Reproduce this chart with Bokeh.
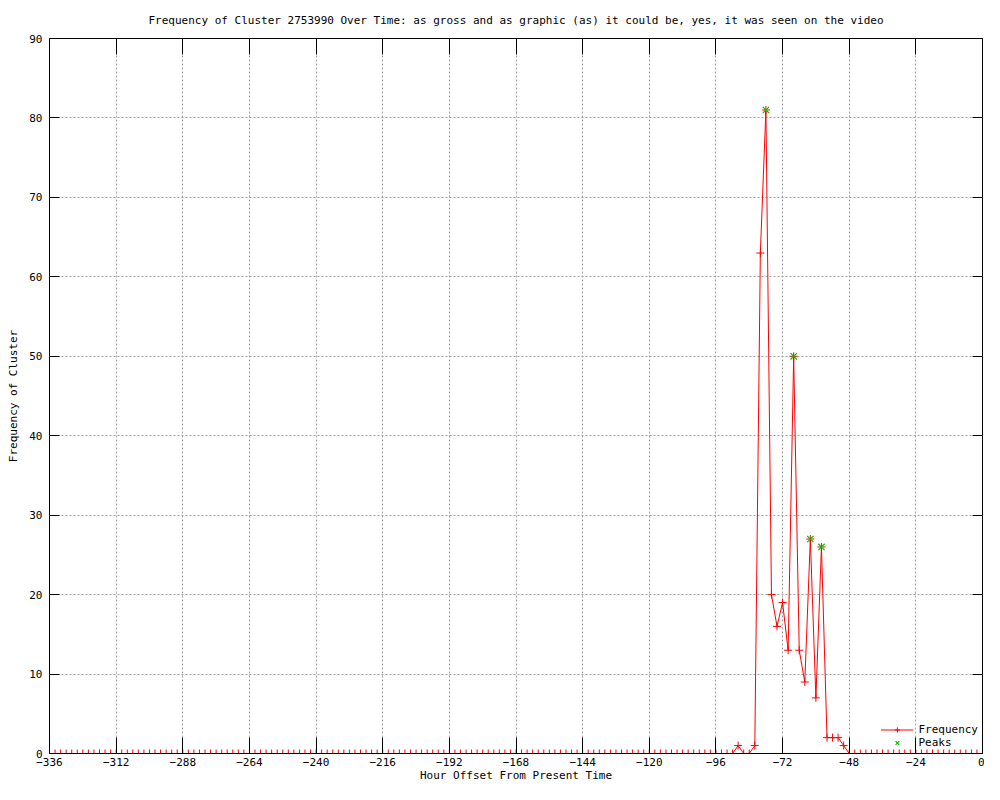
from bokeh.plotting import figure
from bokeh.models import FixedTicker, LinearAxis, Range1d, Legend, LegendItem
from bokeh.embed import file_html
from bokeh.resources import INLINE

# ---- data ----
hours = list(range(-336, 1, 2))
freq = [
    0, 0, 0, 0, 0, 0, 0, 0, 0, 0, 0, 0, 0, 0, 0, 0, 0, 0, 0, 0,
    0, 0, 0, 0, 0, 0, 0, 0, 0, 0, 0, 0, 0, 0, 0, 0, 0, 0, 0, 0,
    0, 0, 0, 0, 0, 0, 0, 0, 0, 0, 0, 0, 0, 0, 0, 0, 0, 0, 0, 0,
    0, 0, 0, 0, 0, 0, 0, 0, 0, 0, 0, 0, 0, 0, 0, 0, 0, 0, 0, 0,
    0, 0, 0, 0, 0, 0, 0, 0, 0, 0, 0, 0, 0, 0, 0, 0, 0, 0, 0, 0,
    0, 0, 0, 0, 0, 0, 0, 0, 0, 0, 0, 0, 0, 0, 0, 0, 0, 0, 0, 0,
    0, 0, 0, 0,
    1, 0, 0, 1, 63, 81, 20, 16, 19, 13, 50, 13, 9, 27, 7, 26, 2, 2, 2, 1,
    0,
    0, 0, 0, 0, 0, 0, 0, 0, 0, 0, 0, 0, 0, 0, 0, 0, 0, 0, 0, 0, 0, 0, 0, 0,
]
peak_hours = [-78, -68, -62, -58]
peak_values = [81, 50, 27, 26]
x_ticks = [-336, -312, -288, -264, -240, -216, -192, -168, -144, -120, -96, -72, -48, -24, 0]
y_ticks = [0, 10, 20, 30, 40, 50, 60, 70, 80, 90]

TITLE = ("Frequency of Cluster 2753990 Over Time: as gross and as graphic (as) "
         "it could be, yes, it was seen on the video")
FONT = "DejaVu Sans Mono"
FS = "11px"

p = figure(width=984, height=784,
           x_range=Range1d(-336, 0), y_range=Range1d(0, 90),
           output_backend="svg", toolbar_location=None,
           min_border_left=49, min_border_right=2,
           min_border_top=38, min_border_bottom=30,
           title=TITLE)

p.title.text_font = FONT
p.title.text_font_size = FS
p.title.text_font_style = "normal"
p.title.align = "center"
p.title.text_color = "black"
p.title.standoff = 23

p.outline_line_color = "black"
p.outline_line_width = 1
p.background_fill_color = "white"
p.border_fill_color = "white"

def style_axis(ax, tick_len):
    ax.axis_line_color = "black"
    ax.major_tick_line_color = "black"
    ax.major_tick_in = tick_len
    ax.major_tick_out = 0
    ax.minor_tick_line_color = None
    ax.major_label_text_font = FONT
    ax.major_label_text_font_size = FS
    ax.major_label_text_color = "black"
    ax.axis_label_text_font = FONT
    ax.axis_label_text_font_size = FS
    ax.axis_label_text_font_style = "normal"
    ax.axis_label_text_color = "black"

xa = p.xaxis[0]
xa.ticker = FixedTicker(ticks=x_ticks)
xa.axis_label = "Hour Offset From Present Time"
style_axis(xa, 16)
xa.major_label_standoff = 4
xa.axis_label_standoff = 0

ya = p.yaxis[0]
ya.ticker = FixedTicker(ticks=y_ticks)
ya.axis_label = "Frequency of Cluster"
style_axis(ya, 10)
ya.major_label_standoff = 7
ya.axis_label_standoff = 6

top = LinearAxis(ticker=FixedTicker(ticks=x_ticks))
style_axis(top, 16)
top.major_label_standoff = 0
top.major_label_overrides = {t: "" for t in x_ticks}
p.add_layout(top, "above")

right = LinearAxis(ticker=FixedTicker(ticks=y_ticks))
style_axis(right, 10)
right.major_label_standoff = 0
right.major_label_overrides = {t: "" for t in y_ticks}
p.add_layout(right, "right")

for g in (p.xgrid[0], p.ygrid[0]):
    g.grid_line_color = "#a0a0a0"
    g.grid_line_dash = "2 2"
    g.grid_line_width = 1

line_r = p.line(hours, freq, line_color="#ff0000", line_width=1)
cross_r = p.scatter(hours, freq, marker="cross", size=8, line_color="#ff0000", line_width=1)
peak_r = p.scatter(peak_hours, peak_values, marker="x", size=9, line_color="#00c000", line_width=1.2)

legend = Legend(items=[LegendItem(label="Frequency", renderers=[line_r, cross_r]),
                       LegendItem(label="Peaks", renderers=[peak_r])],
                location="bottom_right")
legend.label_text_font = FONT
legend.label_text_font_size = FS
legend.label_text_color = "black"
legend.background_fill_alpha = 0
legend.border_line_color = None
legend.glyph_width = 33
legend.glyph_height = 13
legend.label_height = 13
legend.spacing = 0
legend.padding = 0
legend.margin = 4
p.add_layout(legend)

open("out.html", "w").write(file_html(p, INLINE))
